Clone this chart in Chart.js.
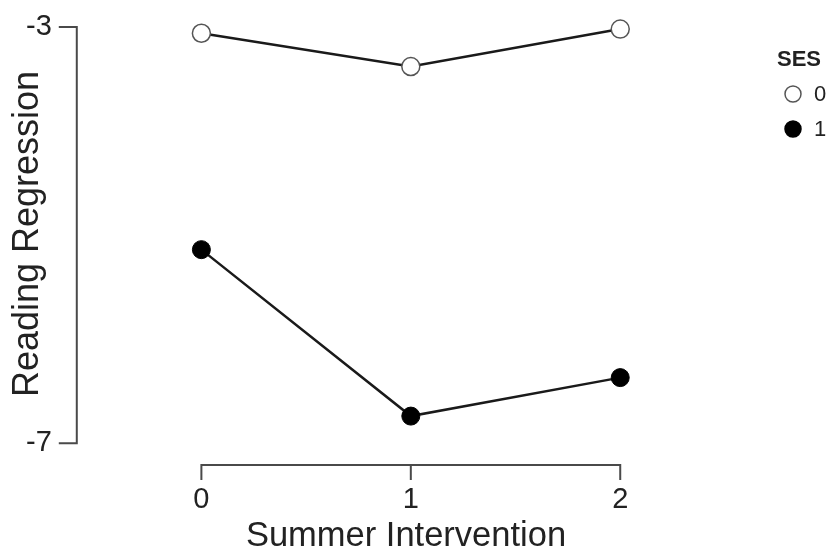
<!DOCTYPE html>
<html>
<head>
<meta charset="utf-8">
<script src="https://cdn.jsdelivr.net/npm/chart.js@4/dist/chart.umd.min.js"></script>
<style>
  html, body { margin: 0; padding: 0; background: #fff; }
  #wrap { width: 830px; height: 556px; }
</style>
</head>
<body>
<div id="wrap"><canvas id="Chart" width="830" height="556"></canvas></div>
<script>
/* data */
const interventions = [0, 1, 2];
const sesLevels = ['0', '1'];
const ses0 = [-3.06, -3.38, -3.02];
const ses1 = [-5.14, -6.74, -6.37];
const yTicks = [-7, -3];

const FONT = "'Liberation Sans', Arial, sans-serif";
const AXIS = '#4a4a4a';

function toPoints(values) {
    return values.map((v, i) => ({ x: interventions[i], y: v }));
}

/* bracket style axes, titles and legend, drawn after the chart */
const decorPlugin = {
    id: 'decor',
    afterDraw(chart) {
        const ctx = chart.ctx;
        const xs = chart.scales.x, ys = chart.scales.y;
        const area = chart.chartArea;
        ctx.save();
        ctx.strokeStyle = AXIS;
        ctx.lineWidth = 2;

        // y axis
        const yTop = ys.getPixelForValue(yTicks[yTicks.length - 1]);
        const yBot = ys.getPixelForValue(yTicks[0]);
        ctx.beginPath();
        ctx.moveTo(area.left, yTop);
        ctx.lineTo(area.left, yBot);
        yTicks.forEach(t => {
            const py = ys.getPixelForValue(t);
            ctx.moveTo(area.left - 18, py);
            ctx.lineTo(area.left + 1, py);
        });
        ctx.stroke();

        // x axis
        const xL = xs.getPixelForValue(interventions[0]);
        const xR = xs.getPixelForValue(interventions[interventions.length - 1]);
        ctx.beginPath();
        ctx.moveTo(xL, area.bottom);
        ctx.lineTo(xR, area.bottom);
        interventions.forEach(t => {
            const px = xs.getPixelForValue(t);
            ctx.moveTo(px, area.bottom - 1);
            ctx.lineTo(px, area.bottom + 15);
        });
        ctx.stroke();

        // axis titles
        ctx.fillStyle = '#222';
        ctx.textAlign = 'center';
        ctx.textBaseline = 'middle';
        ctx.font = '34.5px ' + FONT;
        ctx.fillText('Summer Intervention', 406, 536);
        ctx.save();
        ctx.translate(28, 234);
        ctx.rotate(-Math.PI / 2);
        ctx.font = '36px ' + FONT;
        ctx.fillText('Reading Regression', 0, 0);
        ctx.restore();

        // legend
        ctx.font = 'bold 22px ' + FONT;
        ctx.fillText('SES', 799, 60);
        ctx.font = '22px ' + FONT;
        ctx.textAlign = 'left';
        chart.data.datasets.forEach((ds, i) => {
            const cy = 94 + i * 35;
            ctx.beginPath();
            ctx.arc(793, cy, 8, 0, Math.PI * 2);
            ctx.fillStyle = ds.pointBackgroundColor;
            ctx.fill();
            ctx.lineWidth = 1.5;
            ctx.strokeStyle = ds.pointBorderColor;
            ctx.stroke();
            ctx.fillStyle = '#222';
            ctx.fillText(ds.label, 814, cy + 1);
        });
        ctx.restore();
    }
};

const ctx = document.getElementById('Chart').getContext('2d');
const myChart = new Chart(ctx, {
    type: 'line',
    data: {
        datasets: [{
            label: sesLevels[0],
            data: toPoints(ses0),
            borderColor: '#1a1a1a',
            borderWidth: 2.5,
            pointRadius: 9,
            pointBackgroundColor: '#ffffff',
            pointBorderColor: '#555555',
            pointBorderWidth: 1.5,
            clip: false
        }, {
            label: sesLevels[1],
            data: toPoints(ses1),
            borderColor: '#1a1a1a',
            borderWidth: 2.5,
            pointRadius: 9,
            pointBackgroundColor: '#000000',
            pointBorderColor: '#000000',
            pointBorderWidth: 1,
            clip: false
        }]
    },
    options: {
        responsive: false,
        animation: false,
        layout: {
            padding: { left: 1, top: 27, right: 126, bottom: 41 }
        },
        plugins: {
            legend: { display: false },
            tooltip: { enabled: false }
        },
        scales: {
            x: {
                type: 'linear',
                min: -0.595,
                max: 2.4,
                grid: { display: false, drawTicks: false },
                border: { display: false },
                afterBuildTicks: axis => { axis.ticks = interventions.map(v => ({ value: v })); },
                afterFit: axis => { axis.height = 50; axis.paddingLeft = 0; axis.paddingRight = 0; },
                ticks: {
                    padding: 18,
                    color: '#222',
                    font: { family: FONT, size: 29 }
                }
            },
            y: {
                type: 'linear',
                min: -7.21,
                max: -3,
                grid: { display: false, drawTicks: false },
                border: { display: false },
                afterBuildTicks: axis => { axis.ticks = yTicks.map(v => ({ value: v })); },
                afterFit: axis => { axis.paddingTop = 0; axis.paddingBottom = 0; },
                ticks: {
                    padding: 25,
                    color: '#222',
                    font: { family: FONT, size: 29 }
                }
            }
        }
    },
    plugins: [decorPlugin]
});
</script>
</body>
</html>
